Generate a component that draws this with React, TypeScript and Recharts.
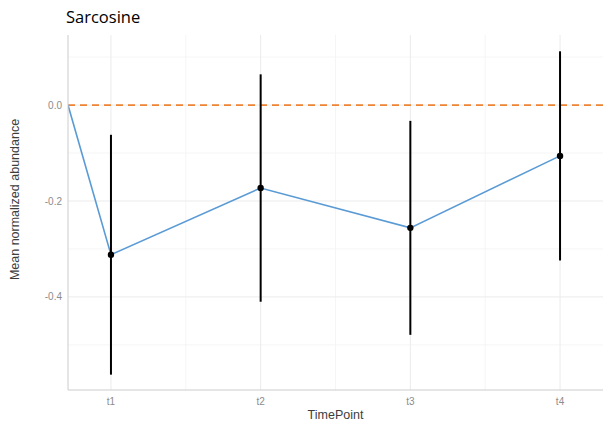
import {
  ComposedChart,
  Line,
  Scatter,
  ErrorBar,
  XAxis,
  YAxis,
  CartesianGrid,
  ReferenceLine,
  Label,
} from "recharts";

// time points shown on the x axis
const timePoints = ["t1", "t2", "t3", "t4"];
const xPositions = [1, 2, 3, 4];

// mean normalized abundance and its error (symmetric)
const means = [-0.312, -0.173, -0.256, -0.106];
const errors = [0.25, 0.237, 0.223, 0.218];

// the line starts from the baseline (0) at the left edge of the panel
const xMin = 0.713;
const xMax = 4.287;
const baselineValue = 0;

const yMajorTicks = [-0.4, -0.2, 0];
const yMinorTicks = [-0.5, -0.3, -0.1, 0.1];
const xMinorTicks = [1.5, 2.5, 3.5];

const points = timePoints.map((t, i) => ({
  x: xPositions[i],
  label: t,
  mean: means[i],
  err: errors[i],
}));

const lineData = [{ x: xMin, mean: baselineValue }, ...points];

const YTitle = (props: any) => {
  const vb = props.viewBox || {};
  const cx = 15;
  const cy = vb.y + vb.height / 2 - 13;
  return (
    <text
      x={cx}
      y={cy}
      transform={`rotate(-90 ${cx} ${cy})`}
      textAnchor="middle"
      dominantBaseline="central"
      fontSize={12.5}
      fill="#3d3d3d"
    >
      Mean normalized abundance
    </text>
  );
};

export default function App() {
  return (
    <div
      style={{
        position: "fixed",
        left: 0,
        top: 0,
        width: 605,
        height: 427,
        background: "#fff",
        fontFamily: "'Liberation Sans', Arial, sans-serif",
      }}
    >
      <div
        style={{
          position: "absolute",
          left: 66,
          top: 5,
          fontSize: 16.5,
          fontFamily: "'Open Sans', sans-serif",
          color: "#000",
        }}
      >
        Sarcosine
      </div>
      <ComposedChart
        width={605}
        height={427}
        margin={{ top: 35, right: 2, bottom: 0, left: 0 }}
      >
        <CartesianGrid
          horizontalValues={yMinorTicks}
          verticalValues={xMinorTicks}
          stroke="#f2f2f2"
          strokeWidth={0.8}
        />
        <CartesianGrid
          horizontalValues={yMajorTicks}
          verticalValues={xPositions}
          stroke="#ebebeb"
          strokeWidth={1}
        />
        <XAxis
          type="number"
          dataKey="x"
          domain={[xMin, xMax]}
          ticks={xPositions}
          allowDataOverflow
          tickFormatter={(v: number) => timePoints[xPositions.indexOf(v)] ?? ""}
          tick={{ fontSize: 10, fill: "#8c8c8c" }}
          tickLine={false}
          tickSize={6}
          tickMargin={2}
          axisLine={{ stroke: "#cccccc" }}
          height={37}
        >
          <Label
            value="TimePoint"
            position="insideBottom"
            offset={8}
            style={{ fontSize: 12.5, fill: "#3d3d3d" }}
          />
        </XAxis>
        <YAxis
          type="number"
          domain={[-0.594, 0.146]}
          ticks={yMajorTicks}
          allowDataOverflow
          tickFormatter={(v: number) => v.toFixed(1)}
          tick={{ fontSize: 10, fill: "#8c8c8c" }}
          tickLine={false}
          tickSize={4}
          tickMargin={2}
          axisLine={{ stroke: "#cccccc" }}
          width={68}
        >
          <Label content={YTitle} />
        </YAxis>
        <ReferenceLine
          y={0}
          stroke="#ee8434"
          strokeWidth={1.8}
          strokeDasharray="7 5"
        />
        <Line
          data={lineData}
          dataKey="mean"
          type="linear"
          stroke="#5b9bd5"
          strokeWidth={1.6}
          dot={false}
          activeDot={false}
          isAnimationActive={false}
        />
        <Scatter
          data={points}
          dataKey="mean"
          fill="#000"
          shape={(props: any) => (
            <circle cx={props.cx} cy={props.cy} r={3.2} fill="#000" />
          )}
          isAnimationActive={false}
        >
          <ErrorBar
            dataKey="err"
            direction="y"
            width={0}
            stroke="#000"
            strokeWidth={2}
            isAnimationActive={false}
          />
        </Scatter>
      </ComposedChart>
    </div>
  );
}
